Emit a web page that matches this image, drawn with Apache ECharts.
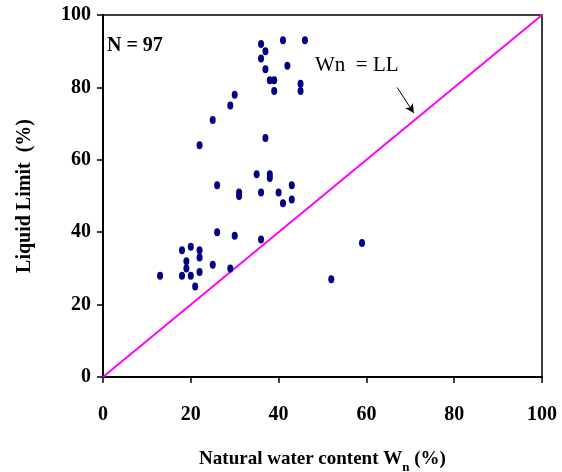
<!DOCTYPE html>
<html>
<head>
<meta charset="utf-8">
<script src="https://cdn.jsdelivr.net/npm/echarts@6/dist/echarts.min.js"></script>
<style>
html, body { margin:0; padding:0; background:#fff; }
#chart { width:562px; height:472px; }
</style>
</head>
<body>
<div id="chart"></div>
<script>
// moisture (x) vs liquid limit (y)
var wn = [36,41,46,37,36,42,37,38,39,39,45,45,30,29,25,37,22,35,38,38,26,43,31,31,36,40,41,43,26,30,36,18,20,22,22,19,19,25,29,13,18,20,22,21,59,52];
var ll = [92,93,93,90,88,86,85,82,82,79,81,79,78,75,71,66,64,56,56,55,53,53,51,50,51,51,48,49,40,39,38,35,36,35,33,32,30,31,30,28,28,28,29,25,37,27];
var equalLine = [[0,0],[100,100]];
var arrowFrom = [67, 80];
var arrowTo = [70.8, 72.9];
var ticks = [0,20,40,60,80,100];

var pts = [];
for(var i = 0; i < wn.length; i++){
	pts.push([wn[i], ll[i]]);
}

var chart = echarts.init(document.getElementById('chart'));
var font = 'Liberation Serif';
chart.setOption({
	animation : false,
	grid : {
		left : 103, right : 20, top : 15, bottom : 95,
		outerBoundsMode : 'none',
		containLabel : false,
		show : true,
		borderColor : '#000',
		borderWidth : 1.5
	},
	xAxis : {
		type : 'value',
		min : 0, max : 100, interval : 20,
		name : '{m|Natural water content W}{sub|n}{m| (%)}',
		nameLocation : 'middle',
		nameGap : 70,
		nameTextStyle : {
			fontFamily : font, fontWeight : 'bold', fontSize : 19, color : '#000',
			rich : {
				m : { fontFamily : font, fontWeight : 'bold', fontSize : 19, lineHeight : 22, verticalAlign : 'bottom' },
				sub : { fontFamily : font, fontWeight : 'bold', fontSize : 13, lineHeight : 12, verticalAlign : 'top', padding : [14,0,0,0] }
			}
		},
		axisLine : { lineStyle : { color : '#000', width : 2 } },
		axisTick : { inside : false, length : 6, lineStyle : { color : '#000', width : 1.5 } },
		axisLabel : { fontFamily : font, fontWeight : 'bold', fontSize : 20, color : '#000', margin : 28 },
		splitLine : { show : false }
	},
	yAxis : {
		type : 'value',
		min : 0, max : 100, interval : 20,
		name : 'Liquid Limit  (%)',
		nameLocation : 'middle',
		nameGap : 68,
		nameTextStyle : { fontFamily : font, fontWeight : 'bold', fontSize : 20, color : '#000' },
		axisLine : { lineStyle : { color : '#000', width : 2 } },
		axisTick : { length : 6, lineStyle : { color : '#000', width : 1.5 } },
		axisLabel : { fontFamily : font, fontWeight : 'bold', fontSize : 20, color : '#000', margin : 12 },
		splitLine : { show : false }
	},
	graphic : [
		{ type : 'text', left : 107, top : 36, style : { text : 'N = 97', fontFamily : font, fontWeight : 'bold', fontSize : 20, fill : '#000' } },
		{ type : 'text', left : 315, top : 55, style : { text : 'Wn  = LL', fontFamily : font, fontSize : 21, fill : '#000' } }
	],
	series : [
		{
			type : 'line',
			data : equalLine,
			symbol : 'none',
			lineStyle : { color : '#ff00ff', width : 2 },
			z : 2,
			markLine : {
				silent : true,
				symbol : ['none', 'arrow'],
				symbolSize : [7, 9],
				label : { show : false },
				lineStyle : { color : '#000', width : 1, type : 'solid' },
				data : [[ { coord : arrowFrom }, { coord : arrowTo } ]]
			}
		},
		{
			type : 'scatter',
			data : pts,
			symbol : 'circle',
			symbolSize : [6, 8],
			itemStyle : { color : '#000080', opacity : 1 },
			z : 3
		}
	]
});
</script>
</body>
</html>
